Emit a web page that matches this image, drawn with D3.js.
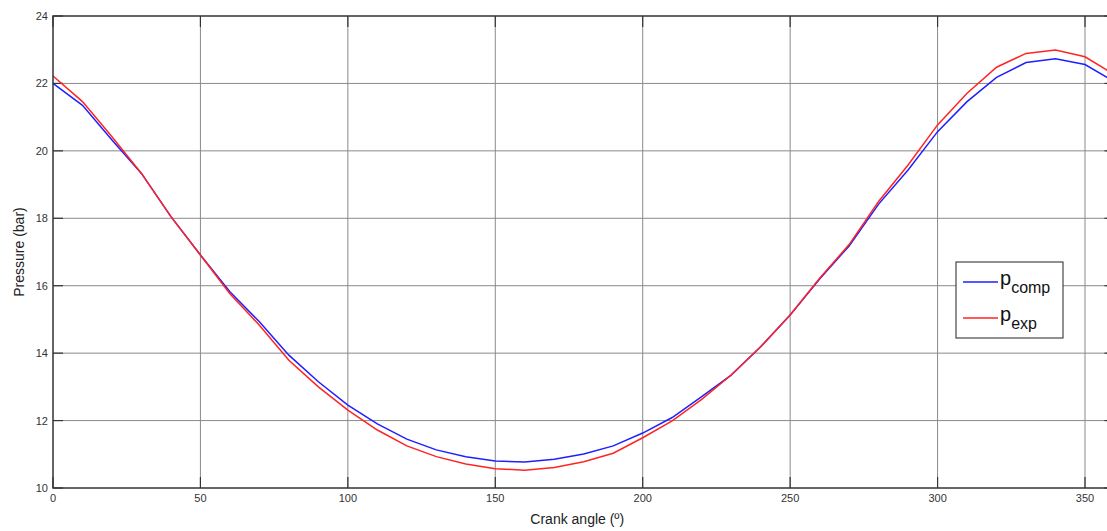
<!DOCTYPE html>
<html>
<head>
<meta charset="utf-8">
<script src="https://cdn.jsdelivr.net/npm/d3@7"></script>
<style>
  html, body { margin: 0; padding: 0; background: #fff; overflow: hidden; }
  svg { display: block; font-family: "Liberation Sans", Arial, sans-serif; }
</style>
</head>
<body>
<svg id="chart"></svg>
<script>
// crank angle in degrees, pressure in bar
const angles = [0, 10, 20, 30, 40, 50, 60, 70, 80, 90, 100, 110, 120, 130, 140, 150, 160, 170, 180,
  190, 200, 210, 220, 230, 240, 250, 260, 270, 280, 290, 300, 310, 320, 330, 340, 350, 360];
const pComp = [22.0, 21.35, 20.32, 19.33, 18.05, 16.91, 15.82, 14.93, 13.94, 13.15, 12.46, 11.9, 11.45,
  11.13, 10.93, 10.8, 10.77, 10.85, 11.01, 11.25, 11.63, 12.09, 12.71, 13.35, 14.19, 15.13, 16.2, 17.18,
  18.42, 19.43, 20.57, 21.46, 22.18, 22.62, 22.73, 22.56, 22.05];
const pExp = [22.22, 21.46, 20.42, 19.33, 18.05, 16.91, 15.76, 14.83, 13.79, 13.0, 12.31, 11.72, 11.25,
  10.93, 10.71, 10.57, 10.53, 10.61, 10.78, 11.03, 11.49, 11.99, 12.63, 13.35, 14.19, 15.13, 16.22, 17.22,
  18.5, 19.58, 20.77, 21.71, 22.48, 22.89, 22.99, 22.79, 22.26];
const xTicks = [0, 50, 100, 150, 200, 250, 300, 350];
const yTicks = [10, 12, 14, 16, 18, 20, 22, 24];

const W = 1107, H = 531;
const plot = { left: 53, top: 16, bottom: 488 };

const svg = d3.select("#chart").attr("width", W).attr("height", H);

const x = d3.scaleLinear().domain([0, 360]).range([plot.left, plot.left + 360 * (1032 / 350)]);
const y = d3.scaleLinear().domain([10, 24]).range([plot.bottom, plot.top]);
const right = x(360);

// grid
svg.append("g").selectAll("line").data(xTicks.slice(1)).join("line")
  .attr("x1", d => x(d)).attr("x2", d => x(d))
  .attr("y1", plot.top).attr("y2", plot.bottom)
  .attr("stroke", "#8a8a8a").attr("stroke-width", 1);
svg.append("g").selectAll("line").data(yTicks.slice(1, -1)).join("line")
  .attr("x1", plot.left).attr("x2", right)
  .attr("y1", d => y(d)).attr("y2", d => y(d))
  .attr("stroke", "#8a8a8a").attr("stroke-width", 1);

// inward ticks, matlab style
const tk = svg.append("g").attr("stroke", "#333").attr("stroke-width", 1.2);
xTicks.forEach(t => {
  tk.append("line").attr("x1", x(t)).attr("x2", x(t)).attr("y1", plot.bottom).attr("y2", plot.bottom - 11);
  tk.append("line").attr("x1", x(t)).attr("x2", x(t)).attr("y1", plot.top).attr("y2", plot.top + 11);
});
yTicks.forEach(t => {
  tk.append("line").attr("x1", plot.left).attr("x2", plot.left + 10).attr("y1", y(t)).attr("y2", y(t));
  tk.append("line").attr("x1", right).attr("x2", right - 10).attr("y1", y(t)).attr("y2", y(t));
});

// curves
const line = d3.line().x((d, i) => x(angles[i])).y(d => y(d));
svg.append("path").datum(pComp).attr("d", line)
  .attr("fill", "none").attr("stroke", "#1f1fff").attr("stroke-width", 1.5);
svg.append("path").datum(pExp).attr("d", line)
  .attr("fill", "none").attr("stroke", "#ff2424").attr("stroke-width", 1.5);

// axes box
svg.append("rect")
  .attr("x", plot.left).attr("y", plot.top)
  .attr("width", right - plot.left).attr("height", plot.bottom - plot.top)
  .attr("fill", "none").attr("stroke", "#333").attr("stroke-width", 1.5);

// tick labels
svg.append("g").selectAll("text").data(xTicks).join("text")
  .attr("x", d => x(d)).attr("y", plot.bottom + 14)
  .attr("text-anchor", "middle").attr("font-size", 11).attr("fill", "#333")
  .text(d => d);
svg.append("g").selectAll("text").data(yTicks).join("text")
  .attr("x", plot.left - 5).attr("y", d => y(d) + 4)
  .attr("text-anchor", "end").attr("font-size", 11).attr("fill", "#333")
  .text(d => d);

// axis titles
svg.append("text")
  .attr("x", x(360) / 2 + 20).attr("y", 524)
  .attr("text-anchor", "middle").attr("font-size", 14).attr("fill", "#222")
  .text("Crank angle (º)");
svg.append("text")
  .attr("transform", `translate(24,${(plot.top + plot.bottom) / 2}) rotate(-90)`)
  .attr("text-anchor", "middle").attr("font-size", 14).attr("fill", "#222")
  .text("Pressure (bar)");

// legend
const lg = svg.append("g").attr("transform", "translate(956,262)");
lg.append("rect").attr("width", 107).attr("height", 76)
  .attr("fill", "#fff").attr("stroke", "#222").attr("stroke-width", 1);
const entries = [
  { sub: "comp", color: "#1f1fff" },
  { sub: "exp", color: "#ff2424" }
];
entries.forEach((e, i) => {
  const yy = 20 + i * 36;
  lg.append("line").attr("x1", 7).attr("x2", 42).attr("y1", yy).attr("y2", yy)
    .attr("stroke", e.color).attr("stroke-width", 1.5);
  const t = lg.append("text").attr("x", 44).attr("y", yy + 3).attr("font-size", 20).attr("fill", "#111");
  t.append("tspan").text("p");
  t.append("tspan").attr("dy", 8).attr("font-size", 16).text(e.sub);
});
</script>
</body>
</html>
